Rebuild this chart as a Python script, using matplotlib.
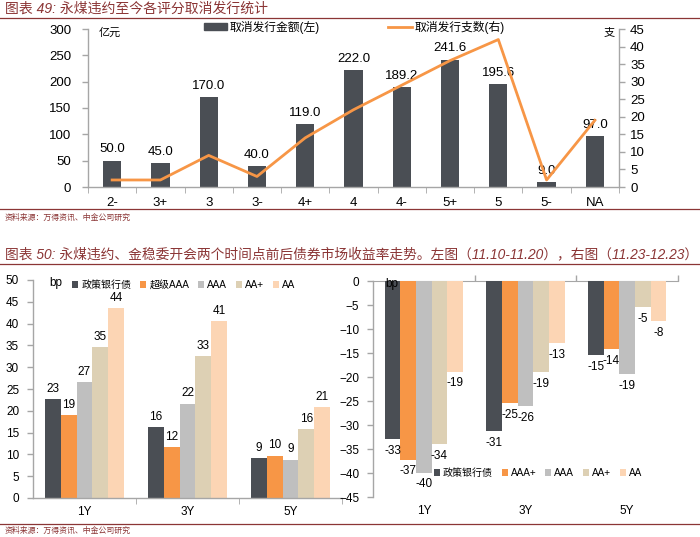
import numpy as np
import matplotlib
matplotlib.use("Agg")
import matplotlib.pyplot as plt
from matplotlib.patches import Patch
from matplotlib.lines import Line2D

plt.rcParams['font.family'] = ['Liberation Sans', 'Noto Sans CJK SC', 'DejaVu Sans']

# ---- chart 49 data ----
ratings = ["2-", "3+", "3", "3-", "4+", "4", "4-", "5+", "5", "5-", "NA"]
cancel_amount = [50.0, 45.0, 170.0, 40.0, 119.0, 222.0, 189.2, 241.6, 195.6, 9.0, 97.0]
cancel_count = [2, 2, 9, 3, 14, 22, 29, 36, 42, 2, 19]

# ---- chart 50 data ----
tenors = ["1Y", "3Y", "5Y"]
left_series = ["政策银行债", "超级AAA", "AAA", "AA+", "AA"]
left_values = [
    [22.6, 16.2, 9.1],
    [19.0, 11.6, 9.7],
    [26.6, 21.6, 8.8],
    [34.6, 32.6, 15.8],
    [43.6, 40.6, 20.9],
]
right_series = ["政策银行债", "AAA+", "AAA", "AA+", "AA"]
right_values = [
    [-33.0, -31.2, -15.4],
    [-37.2, -25.4, -14.2],
    [-39.9, -26.0, -19.4],
    [-34.0, -19.0, -5.4],
    [-18.9, -13.0, -8.3],
]

BAR_COLORS = ["#4A4E54", "#F79646", "#BFBFBF", "#DDD0B4", "#FCD5B4"]
TITLE_RED = "#8B3535"
AXIS_GRAY = "#A6A6A6"

fig = plt.figure(figsize=(7.0, 5.37), dpi=100)


def fx(px):
    return px / 700.0


def fy(py):
    return 1 - py / 537.0


# titles, separator lines, sources
fig.text(fx(5), fy(9), "图表 49: 永煤违约至今各评分取消发行统计", color=TITLE_RED,
         fontsize=10, style="italic", va="center", ha="left")
fig.add_artist(Line2D([0, 1], [fy(17.5), fy(17.5)], color=TITLE_RED, lw=0.9))
fig.add_artist(Line2D([0, 1], [fy(209), fy(209)], color=TITLE_RED, lw=0.9))
fig.text(fx(5), fy(218), "资料来源：万得资讯、中金公司研究", color=TITLE_RED,
         fontsize=5.7, style="italic", va="center", ha="left")

fig.text(fx(5), fy(254), "图表 50: 永煤违约、金稳委开会两个时间点前后债券市场收益率走势。左图（11.10-11.20），右图（11.23-12.23）",
         color=TITLE_RED, fontsize=9.9, style="italic", va="center", ha="left")
fig.add_artist(Line2D([0, 1], [fy(264), fy(264)], color=TITLE_RED, lw=0.9))
fig.add_artist(Line2D([0, 1], [fy(523.5), fy(523.5)], color=TITLE_RED, lw=0.9))
fig.text(fx(5), fy(531), "资料来源：万得资讯、中金公司研究", color=TITLE_RED,
         fontsize=5.7, style="italic", va="center", ha="left")


def style_axis(ax):
    for s in ax.spines.values():
        s.set_color(AXIS_GRAY)
        s.set_linewidth(1.0)
    ax.tick_params(colors=AXIS_GRAY, labelcolor="#000000", length=4, width=1.0)


# ---- chart 49 ----
ax = fig.add_axes([fx(88), fy(187), fx(619 - 88), (187 - 29) / 537.0])
x = np.arange(len(ratings))
bars = ax.bar(x, cancel_amount, width=0.38, color="#4A4E54")
for xi, v in zip(x, cancel_amount):
    ax.text(xi, v + 10, f"{v:.1f}", ha="center", va="bottom", fontsize=9.5)
ax.set_xlim(-0.5, len(ratings) - 0.5)
ax.set_ylim(0, 300)
ax.set_yticks(np.arange(0, 301, 50))
ax.set_xticks(x)
ax.set_xticklabels(ratings, fontsize=9.5)
ax.set_xticks(np.arange(-0.5, len(ratings), 1), minor=True)
style_axis(ax)
ax.tick_params(axis="x", which="major", length=0, pad=7)
ax.tick_params(axis="x", which="minor", length=4, color=AXIS_GRAY)
ax.tick_params(axis="y", labelsize=9.5, pad=8)
ax.spines["top"].set_visible(False)
ax.spines["right"].set_visible(False)
ax.text(0.041, 0.975, "亿元", transform=ax.transAxes, fontsize=8, ha="center", va="center")

ax2 = ax.twinx()
ax2.plot(x, cancel_count, color="#F79646", lw=2)
ax2.set_ylim(0, 45)
ax2.set_yticks(np.arange(0, 46, 5))
style_axis(ax2)
ax2.tick_params(axis="y", labelsize=9.5, pad=4)
ax2.spines["top"].set_visible(False)
ax2.spines["left"].set_visible(False)
ax2.spines["bottom"].set_visible(False)
ax2.text(0.982, 0.975, "支", transform=ax2.transAxes, fontsize=8, ha="center", va="center")

handles = [Patch(color="#4A4E54"), Line2D([], [], color="#F79646", lw=2)]
fig.legend(handles, ["取消发行金额(左)", "取消发行支数(右)"], loc="center",
           bbox_to_anchor=(fx(354), fy(27)), ncol=2, frameon=False, fontsize=8.5,
           handlelength=2.0, handleheight=0.6, handletextpad=0.2, columnspacing=5.8)


def grouped(ax, values, colors, width=0.154):
    n = len(values)
    xs = np.arange(len(tenors))
    conts = []
    for i, vals in enumerate(values):
        off = (i - (n - 1) / 2) * width
        c = ax.bar(xs + off, vals, width=width, color=colors[i])
        conts.append(c)
    return xs, conts


# ---- chart 50 left ----
axl = fig.add_axes([fx(33), fy(498), fx(342 - 33), (498 - 280) / 537.0])
xs, conts = grouped(axl, left_values, BAR_COLORS)
for c, vals in zip(conts, left_values):
    for r, v in zip(c, vals):
        axl.text(r.get_x() + r.get_width() / 2, v + 1.0, f"{v:.0f}", ha="center",
                 va="bottom", fontsize=8.5)
axl.set_xlim(-0.5, 2.5)
axl.set_ylim(0, 50)
axl.set_yticks(np.arange(0, 51, 5))
axl.set_xticks(xs)
axl.set_xticklabels(tenors, fontsize=8.5)
axl.set_xticks([0.5, 1.5, 2.5], minor=True)
style_axis(axl)
axl.tick_params(axis="x", which="major", length=0, pad=6)
axl.tick_params(axis="x", which="minor", length=4, color=AXIS_GRAY)
axl.tick_params(axis="y", labelsize=8.5, pad=6)
axl.spines["top"].set_visible(False)
axl.spines["right"].set_visible(False)
axl.text(0.074, 0.986, "bp", transform=axl.transAxes, fontsize=8.5, ha="center", va="center")
axl.legend(conts, left_series, loc="center", bbox_to_anchor=(fx(184), fy(285)),
           bbox_transform=fig.transFigure, ncol=5, frameon=False, fontsize=7.2,
           handlelength=0.6, handleheight=0.6, handletextpad=0.3, columnspacing=0.9,
           borderpad=0.1)

# ---- chart 50 right ----
axr = fig.add_axes([fx(373), fy(497), fx(678 - 373), (497 - 281) / 537.0])
xs, conts = grouped(axr, right_values, BAR_COLORS)
for c, vals in zip(conts, right_values):
    for r, v in zip(c, vals):
        axr.text(r.get_x() + r.get_width() / 2, v - 1.2, f"{v:.0f}", ha="center",
                 va="top", fontsize=8.5)
axr.set_xlim(-0.5, 2.5)
axr.set_ylim(-45, 0)
axr.set_yticks(np.arange(-45, 1, 5))
axr.set_xticks(xs)
axr.set_xticklabels(tenors, fontsize=8.5)
style_axis(axr)
axr.tick_params(axis="x", which="major", length=0, pad=6)
axr.tick_params(axis="y", labelsize=8.5, pad=6)
axr.spines["bottom"].set_visible(False)
axr.spines["right"].set_visible(False)
sec = axr.secondary_xaxis("top")
sec.set_xticks([0.5, 1.5, 2.5])
sec.set_xticklabels([])
sec.spines["top"].set_color(AXIS_GRAY)
sec.tick_params(axis="x", length=4, color=AXIS_GRAY, width=1.0)
axr.spines["top"].set_visible(False)
axr.text(0.062, 0.986, "bp", transform=axr.transAxes, fontsize=8.5, ha="center", va="center")
axr.legend(conts, right_series, loc="center", bbox_to_anchor=(fx(538), fy(473)),
           bbox_transform=fig.transFigure, ncol=5, frameon=False, fontsize=7.2,
           handlelength=0.6, handleheight=0.6, handletextpad=0.3, columnspacing=0.9,
           borderpad=0.1)

fig.savefig("out.png", dpi=100)
